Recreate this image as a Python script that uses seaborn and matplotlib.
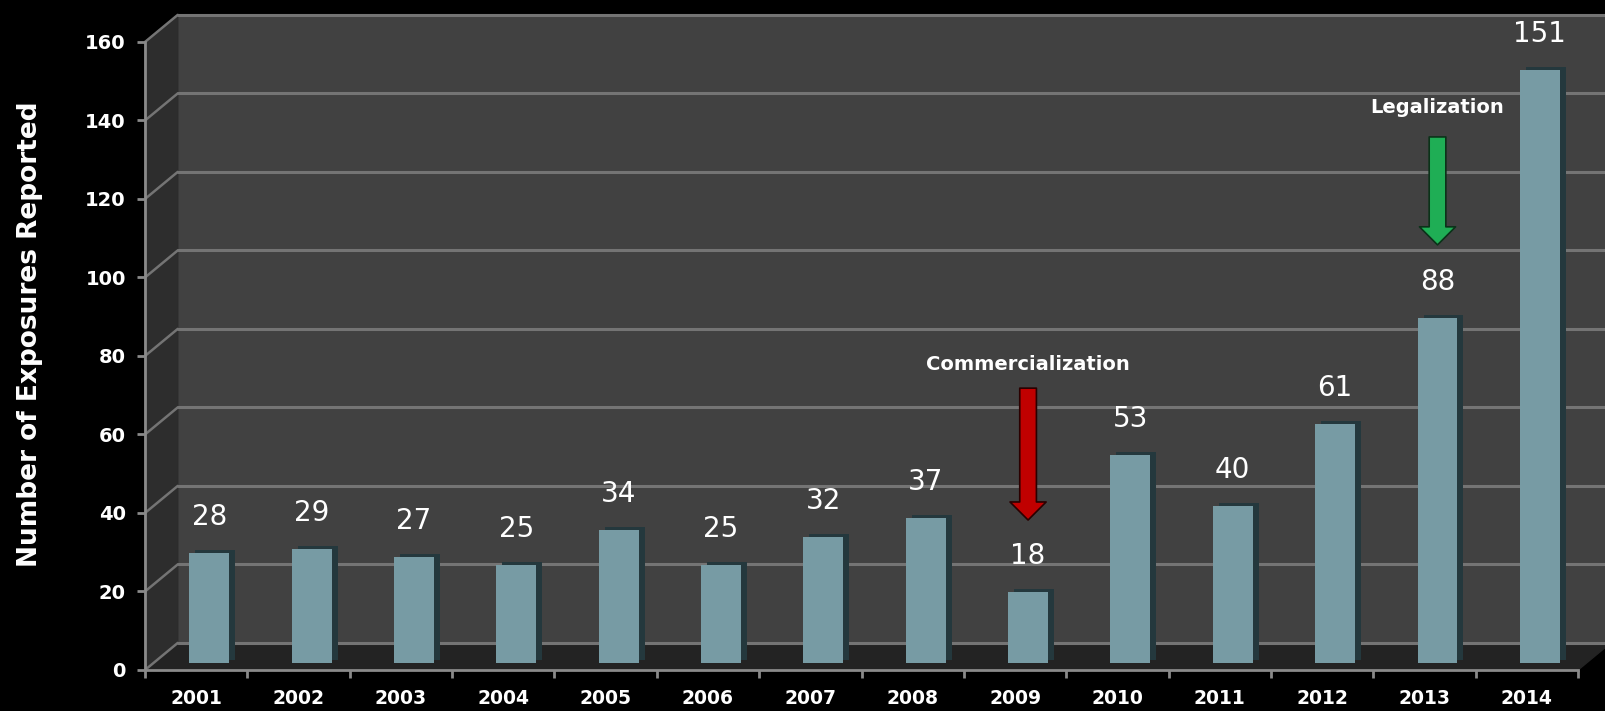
import matplotlib
matplotlib.use('Agg')
import matplotlib.pyplot as plt
from matplotlib.patches import Polygon
from matplotlib.transforms import offset_copy
import seaborn as sns

years = ['2001', '2002', '2003', '2004', '2005', '2006', '2007',
         '2008', '2009', '2010', '2011', '2012', '2013', '2014']
exposures = [28, 29, 27, 25, 34, 25, 32, 37, 18, 53, 40, 61, 88, 151]
y_ticks = [0, 20, 40, 60, 80, 100, 120, 140, 160]

# eventos marcados com setas
eventos = ['Commercialization', 'Legalization']
eventos_ano = ['2009', '2013']
eventos_cor = ['#c00000', '#1fae55']
eventos_borda = ['#2a0000', '#0b3219']

sns.set_theme(style="dark")
plt.rcParams['font.family'] = ['DejaVu Sans']

fig, ax = plt.subplots(figsize=(16.06, 7.11), dpi=100)
fig.patch.set_facecolor('black')
ax.set_facecolor('black')
ax.set_position([0.0903, 0.0577, 0.8923, 0.8833])

# profundidade do "3D" em unidades de dados
dx, dy = 0.32, 6.9
x0, x1 = -0.5, len(years) - 0.5
ymax = y_ticks[-1]

# parede do fundo, parede lateral e piso
ax.add_patch(Polygon([(x0 + dx, dy), (x1 + dx + 0.5, dy), (x1 + dx + 0.5, ymax + dy), (x0 + dx, ymax + dy)],
                     closed=True, color='#414141', zorder=0, clip_on=False))
ax.add_patch(Polygon([(x0, 0), (x0, ymax), (x0 + dx, ymax + dy), (x0 + dx, dy)],
                     closed=True, color='#2d2d2d', zorder=0, clip_on=False))
ax.add_patch(Polygon([(x0, 0), (x1, 0), (x1 + dx, dy), (x0 + dx, dy)],
                     closed=True, color='#232323', zorder=0.5, clip_on=False))

for v in y_ticks:
    ax.plot([x0 + dx, x1 + dx + 0.5], [v + dy, v + dy], color='#747474', lw=2.2, zorder=1, clip_on=False)
    ax.plot([x0, x0 + dx], [v, v + dy], color='#747474', lw=1.8, zorder=1, clip_on=False)

# barras: sombra escura + face
sns.barplot(x=years, y=exposures, color='#24383d', width=0.39, saturation=1,
            errorbar=None, ax=ax, zorder=2, edgecolor='none', linewidth=0)
shadow_tr = offset_copy(ax.transData, fig=fig, x=19, y=10, units='dots')
for p in ax.containers[-1]:
    p.set_transform(shadow_tr)
    p.set_clip_on(False)

sns.barplot(x=years, y=exposures, color='#779ba4', width=0.39, saturation=1,
            errorbar=None, ax=ax, zorder=3, edgecolor='none', linewidth=0)
bar_tr = offset_copy(ax.transData, fig=fig, x=13, y=7, units='dots')
for p in ax.containers[-1]:
    p.set_transform(bar_tr)
    p.set_clip_on(False)

for i, v in enumerate(exposures):
    ax.annotate(str(v), xy=(i, v), xytext=(13, 29), textcoords='offset pixels',
                ha='center', va='bottom', color='white', fontsize=20, zorder=5)

# anotações
arrow_tr = offset_copy(ax.transData, fig=fig, x=13, y=0, units='dots')
text_y = [77.7, 143.2]
arrow_top = [71.8, 135.8]
arrow_tip = [38.2, 108.3]
for nome, ano, cor, borda, ty, a0, a1 in zip(eventos, eventos_ano, eventos_cor, eventos_borda,
                                             text_y, arrow_top, arrow_tip):
    i = years.index(ano)
    ax.annotate(nome, xy=(i, ty), xycoords=arrow_tr, ha='center', va='center',
                color='white', fontsize=14, fontweight='bold', zorder=6)
    ax.annotate('', xy=(i, a1), xytext=(i, a0), xycoords=arrow_tr, textcoords=arrow_tr,
                arrowprops=dict(arrowstyle='simple,head_length=1.3,head_width=2.6,tail_width=1.2',
                                mutation_scale=10, fc=cor, ec=borda, lw=1.2,
                                shrinkA=0, shrinkB=0), zorder=6)

ax.set_xlim(x0, x1)
ax.set_ylim(0, ymax)
ax.set_yticks(y_ticks)
ax.set_xticks(range(len(years)))
ax.set_xticklabels(years)
ax.set_xticks([x0 + k for k in range(len(years) + 1)], minor=True)
ax.grid(False)

for s in ['top', 'right']:
    ax.spines[s].set_visible(False)
for s in ['left', 'bottom']:
    ax.spines[s].set_color('#8a8a8a')
    ax.spines[s].set_linewidth(2)
    ax.spines[s].set_zorder(4)

ax.tick_params(axis='y', which='major', direction='out', length=5.8, width=2, color='#8a8a8a',
               labelcolor='white', labelsize=14, pad=8, left=True)
ax.tick_params(axis='x', which='major', length=0, labelcolor='white', labelsize=13.5, pad=14)
ax.tick_params(axis='x', which='minor', direction='out', length=5.8, width=2, color='#8a8a8a', bottom=True)
for lbl in ax.get_xticklabels() + ax.get_yticklabels():
    lbl.set_fontweight('bold')

ax.set_xlabel('')
ax.set_ylabel('Number of Exposures Reported', fontsize=19, fontweight='bold', color='white')
ax.yaxis.set_label_coords(-0.0712, 0.535)

plt.savefig('out.png', dpi=100, facecolor='black')
